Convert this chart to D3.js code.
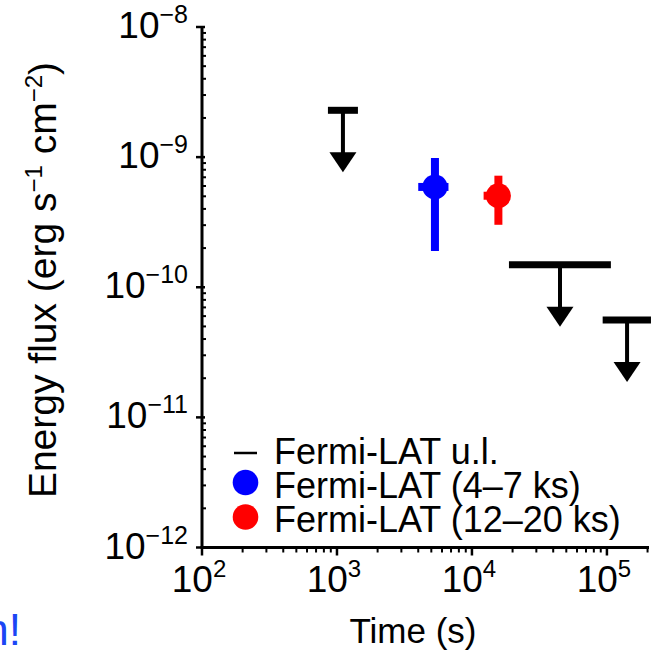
<!DOCTYPE html>
<html>
<head>
<meta charset="utf-8">
<script src="https://cdn.jsdelivr.net/npm/d3@7"></script>
<style>
  body { margin: 0; background: #fff; }
  svg text { font-family: "Liberation Sans", Arial, Helvetica, sans-serif; fill: #000; }
</style>
</head>
<body>
<div id="chart"></div>
<script>

// upper limits (Fermi-LAT u.l.)
var ulTime   = [1107, 44900, 141000];
var ulTimeLo = [857, 18800, 93000];
var ulTimeHi = [1430, 107000, 212000];
var ulFlux   = [2.29e-9, 1.49e-10, 5.6e-11];

// detections
var detNames  = ["Fermi-LAT (4\u20137 ks)", "Fermi-LAT (12\u201320 ks)"];
var detColors = ["#0000ff", "#ff0000"];
var detTime   = [5320, 15700];
var detTimeLo = [4000, 12200];
var detTimeHi = [6700, 19200];
var detFlux   = [5.9e-10, 5.05e-10];
var detFluxLo = [1.9e-10, 3.02e-10];
var detFluxHi = [9.86e-10, 7.2e-10];

var xTicks = [1e2, 1e3, 1e4, 1e5];
var xTickExp = ["2", "3", "4", "5"];
var yTicks = [1e-8, 1e-9, 1e-10, 1e-11, 1e-12];
var yTickExp = ["\u22128", "\u22129", "\u221210", "\u221211", "\u221212"];

var legendLabels = ["Fermi-LAT u.l.", detNames[0], detNames[1]];

var margin = {top: 27, right: 3, bottom: 103, left: 202},
    width = 652 - margin.left - margin.right,
    height = 651 - margin.top - margin.bottom;

var svg = d3.select("#chart").append("svg")
    .attr("width", 652)
    .attr("height", 651);

var g = svg.append("g")
    .attr("transform", "translate(" + margin.left + "," + margin.top + ")");

// scales
var x = d3.scaleLog()
    .domain([1e2, 2.05e5])
    .range([0, width]);

var y = d3.scaleLog()
    .domain([1e-12, 1e-8])
    .range([height - 0.5, 0]);

// minor ticks
var xMinor = [];
[1e2, 1e3, 1e4, 1e5].forEach(function(d) {
    for (var k = 2; k <= 9; k++) if (d * k <= 2.05e5) xMinor.push(d * k);
});
var yMinor = [];
[1e-12, 1e-11, 1e-10, 1e-9].forEach(function(d) {
    for (var k = 2; k <= 9; k++) yMinor.push(d * k);
});

// x axis
var xAxisG = g.append("g").attr("transform", "translate(0," + y(1e-12) + ")");
xAxisG.append("line")
    .attr("x1", -1.5).attr("x2", width)
    .attr("stroke", "#000").attr("stroke-width", 3);
xAxisG.selectAll(".xminor").data(xMinor).enter().append("line")
    .attr("x1", function(d) { return x(d); }).attr("x2", function(d) { return x(d); })
    .attr("y1", 0).attr("y2", 5)
    .attr("stroke", "#000").attr("stroke-width", 2);
xAxisG.selectAll(".xmajor").data(xTicks).enter().append("line")
    .attr("x1", function(d) { return x(d); }).attr("x2", function(d) { return x(d); })
    .attr("y1", 0).attr("y2", 8)
    .attr("stroke", "#000").attr("stroke-width", 2.5);
var xl = xAxisG.selectAll(".xlab").data(xTicks).enter().append("text")
    .attr("x", function(d) { return x(d) - 3; })
    .attr("y", 44)
    .attr("text-anchor", "middle");
xl.append("tspan").style("font-size", "37px").text("10");
xl.append("tspan").style("font-size", "24px").attr("dy", -15)
    .text(function(d, i) { return xTickExp[i]; });

// y axis
var yAxisG = g.append("g");
yAxisG.append("line")
    .attr("y1", 0).attr("y2", height)
    .attr("stroke", "#000").attr("stroke-width", 3);
yAxisG.selectAll(".yminor").data(yMinor).enter().append("line")
    .attr("y1", function(d) { return y(d); }).attr("y2", function(d) { return y(d); })
    .attr("x1", 0).attr("x2", 4)
    .attr("stroke", "#000").attr("stroke-width", 2);
yAxisG.selectAll(".ymajor").data(yTicks).enter().append("line")
    .attr("y1", function(d) { return y(d); }).attr("y2", function(d) { return y(d); })
    .attr("x1", -6).attr("x2", 3)
    .attr("stroke", "#000").attr("stroke-width", 2.5);
var yl = yAxisG.selectAll(".ylab").data(yTicks).enter().append("text")
    .attr("x", -14)
    .attr("y", function(d) { return y(d) + 11; })
    .attr("text-anchor", "end");
yl.append("tspan").style("font-size", "37px").text("10");
yl.append("tspan").style("font-size", "25px").attr("dy", -15)
    .text(function(d, i) { return yTickExp[i]; });

// axis titles
svg.append("text")
    .attr("x", 413).attr("y", 643)
    .attr("text-anchor", "middle")
    .style("font-size", "35px")
    .text("Time (s)");

var yt = svg.append("text")
    .attr("transform", "translate(56,280) rotate(-90)")
    .attr("text-anchor", "middle")
    .style("font-size", "39px");
yt.append("tspan").text("Energy flux (erg s");
yt.append("tspan").attr("dy", -14).style("font-size", "24px").text("\u22121");
yt.append("tspan").attr("dy", 14).text(" cm");
yt.append("tspan").attr("dy", -14).style("font-size", "24px").text("\u22122");
yt.append("tspan").attr("dy", 14).text(")");

// upper limits
var ul = g.selectAll(".ul").data(ulTime).enter().append("g").attr("class", "ul");
ul.append("line")
    .attr("x1", function(d, i) { return x(ulTimeLo[i]); })
    .attr("x2", function(d, i) { return x(ulTimeHi[i]); })
    .attr("y1", function(d, i) { return y(ulFlux[i]); })
    .attr("y2", function(d, i) { return y(ulFlux[i]); })
    .attr("stroke", "#000").attr("stroke-width", 7);
ul.append("line")
    .attr("x1", function(d) { return x(d); })
    .attr("x2", function(d) { return x(d); })
    .attr("y1", function(d, i) { return y(ulFlux[i]); })
    .attr("y2", function(d, i) { return y(ulFlux[i]) + 44; })
    .attr("stroke", "#000").attr("stroke-width", 4);
ul.append("path")
    .attr("d", function(d, i) {
        var cx = x(d), cy = y(ulFlux[i]) + 62;
        return "M" + cx + "," + cy + "L" + (cx - 13.5) + "," + (cy - 20) + "L" + (cx + 13.5) + "," + (cy - 20) + "Z";
    })
    .attr("fill", "#000");

// detections
var det = g.selectAll(".det").data(detTime).enter().append("g").attr("class", "det");
det.append("line")
    .attr("x1", function(d) { return x(d); })
    .attr("x2", function(d) { return x(d); })
    .attr("y1", function(d, i) { return y(detFluxHi[i]); })
    .attr("y2", function(d, i) { return y(detFluxLo[i]); })
    .attr("stroke", function(d, i) { return detColors[i]; })
    .attr("stroke-width", 8);
det.append("line")
    .attr("x1", function(d, i) { return x(detTimeLo[i]); })
    .attr("x2", function(d, i) { return x(detTimeHi[i]); })
    .attr("y1", function(d, i) { return y(detFlux[i]); })
    .attr("y2", function(d, i) { return y(detFlux[i]); })
    .attr("stroke", function(d, i) { return detColors[i]; })
    .attr("stroke-width", 8);
det.append("circle")
    .attr("cx", function(d) { return x(d); })
    .attr("cy", function(d, i) { return y(detFlux[i]); })
    .attr("r", 12.5)
    .attr("fill", function(d, i) { return detColors[i]; });

// legend
var leg = svg.append("g");
leg.append("line")
    .attr("x1", 234).attr("x2", 257).attr("y1", 453).attr("y2", 453)
    .attr("stroke", "#000").attr("stroke-width", 2.5);
leg.selectAll(".legdot").data(detColors).enter().append("circle")
    .attr("cx", 245.5)
    .attr("cy", function(d, i) { return 482.5 + i * 34.5; })
    .attr("r", 12.8)
    .attr("fill", function(d) { return d; });
leg.selectAll(".legtxt").data(legendLabels).enter().append("text")
    .attr("x", 274)
    .attr("y", function(d, i) { return 464 + i * 34; })
    .style("font-size", "36px")
    .text(function(d) { return d; });

// clipped blue text at the bottom left
svg.append("text")
    .attr("x", 21).attr("y", 645)
    .attr("text-anchor", "end")
    .style("font-size", "44px")
    .style("fill", "#1c46f5")
    .text("n!");

</script>
</body>
</html>
